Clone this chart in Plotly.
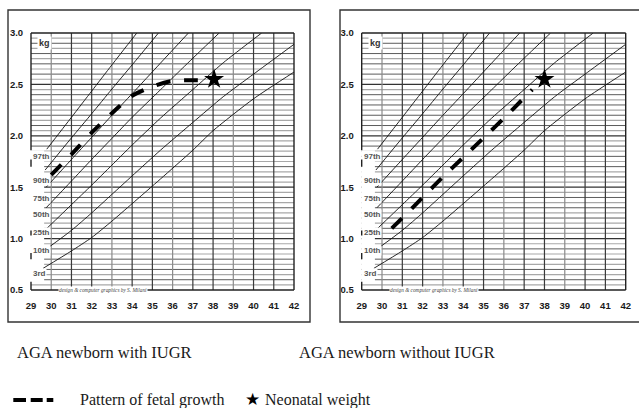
import plotly.graph_objects as go

W, H = 639, 408

# ---------------- data ----------------
week_ticks = list(range(29, 43))
kg_ticks = [0.5, 1.0, 1.5, 2.0, 2.5, 3.0]
kg_tick_text = ["0.5", "1.0", "1.5", "2.0", "2.5", "3.0"]

pct_names = ["97th", "90th", "75th", "50th", "25th", "10th", "3rd"]
pct_label_kg = [1.797, 1.570, 1.392, 1.230, 1.061, 0.889, 0.662]

p97_wk = [29.78, 31, 32, 33, 34.23]
p97_kg = [1.87, 2.18, 2.435, 2.69, 3.0]
p90_wk = [29.7, 31, 32, 33, 34, 35.3]
p90_kg = [1.667, 1.98, 2.215, 2.455, 2.69, 3.0]
p75_wk = [29.75, 31, 32, 33, 34, 35.39, 36.78]
p75_kg = [1.50, 1.77, 1.985, 2.20, 2.41, 2.705, 3.0]
p50_wk = [29.75, 31, 32, 33, 34, 35.39, 36.5, 38.3]
p50_kg = [1.30, 1.56, 1.77, 1.975, 2.18, 2.446, 2.66, 3.0]
p25_wk = [29.75, 31, 32, 33, 34, 35.39, 37, 38.5, 40.4]
p25_kg = [1.093, 1.33, 1.52, 1.715, 1.91, 2.17, 2.45, 2.71, 3.0]
p10_wk = [29.8, 31, 32, 33, 34, 35.4, 37, 38.5, 40, 42]
p10_kg = [0.904, 1.08, 1.25, 1.43, 1.61, 1.86, 2.13, 2.38, 2.60, 2.89]
p3_wk = [29.6, 31, 32, 33, 34, 35.4, 37, 38, 40, 42]
p3_kg = [0.711, 0.88, 1.01, 1.17, 1.34, 1.58, 1.86, 2.05, 2.36, 2.62]

# fetal growth pattern (left: with IUGR, right: without IUGR)
iugr_wk = [30, 31, 32, 33, 34, 35, 36, 37, 37.33]
iugr_kg = [1.62, 1.82, 2.03, 2.22, 2.39, 2.48, 2.535, 2.54, 2.54]
noiugr_wk = [30.48, 31, 32, 33, 34, 35, 36, 37, 37.4]
noiugr_kg = [1.10, 1.20, 1.40, 1.60, 1.79, 1.98, 2.17, 2.37, 2.45]

# neonatal weight (left panel, right panel)
neo_wk = [38.05, 38.0]
neo_kg = [2.55, 2.55]

captions = ["AGA newborn with IUGR", "AGA newborn without IUGR"]
credit = "design & computer graphics by S. Milani"

# ---------------- figure ----------------
fig = go.Figure()

curves = [(p97_wk, p97_kg), (p90_wk, p90_kg), (p75_wk, p75_kg), (p50_wk, p50_kg),
          (p25_wk, p25_kg), (p10_wk, p10_kg), (p3_wk, p3_kg)]

panels = [("x", "y", iugr_wk, iugr_kg, 0), ("x2", "y2", noiugr_wk, noiugr_kg, 1)]

narrow = "Liberation Sans Narrow, Arial Narrow, Liberation Sans, Arial"
tickfont = dict(family=narrow, size=9.5, color="#1a1a1a")

shapes = []
annotations = []

for xr, yr, gw, gk, i in panels:
    for (cw, ck) in curves:
        fig.add_trace(go.Scatter(x=cw, y=ck, xaxis=xr, yaxis=yr, mode="lines",
                                 line=dict(color="#111", width=0.9, shape="spline", smoothing=0.6),
                                 showlegend=False, hoverinfo="skip"))
    fig.add_trace(go.Scatter(x=gw, y=gk, xaxis=xr, yaxis=yr, mode="lines",
                             line=dict(color="black", width=4, dash="14px,14px", shape="spline", smoothing=0.6),
                             showlegend=False, hoverinfo="skip"))
    fig.add_trace(go.Scatter(x=[neo_wk[i]], y=[neo_kg[i]], xaxis=xr, yaxis=yr, mode="markers",
                             marker=dict(symbol="star", size=15, color="black"),
                             showlegend=False, hoverinfo="skip"))

    xd = xr + " domain"
    yd = yr + " domain"
    # horizontal grid (every 0.05 kg)
    for k in range(11, 60):
        v = k * 0.05
        if k % 10 == 0:
            col, w = "#333", 1.2
        elif k % 2 == 0:
            col, w = "#4a4a4a", 0.9
        else:
            col, w = "#a8a8a8", 1.2
        shapes.append(dict(type="line", xref=xd, yref=yr, x0=0, x1=1, y0=v, y1=v,
                           line=dict(color=col, width=w), layer="below"))
    # vertical grid (every week)
    for wk in range(30, 42):
        col = "#8a8a8a" if wk in (30, 33, 36, 39) else "#3a3a3a"
        shapes.append(dict(type="line", xref=xr, yref=yd, x0=wk, x1=wk, y0=0, y1=1,
                           line=dict(color=col, width=1.2), layer="below"))
    # plot border
    bl = dict(color="#222", width=1.4)
    shapes.append(dict(type="line", xref=xd, yref=yd, x0=0, x1=1, y0=1, y1=1, line=bl))
    shapes.append(dict(type="line", xref=xd, yref=yd, x0=1, x1=1, y0=0, y1=1, line=bl))
    shapes.append(dict(type="line", xref=xd, yref=yd, x0=0, x1=1, y0=0, y1=0, line=bl))
    shapes.append(dict(type="line", xref=xd, yref=yr, x0=0, x1=0, y0=3.0, y1=1.86, line=bl))
    shapes.append(dict(type="line", xref=xd, yref=yr, x0=0, x1=0, y0=0.58, y1=0.5, line=bl))
    # white column behind percentile labels
    shapes.append(dict(type="rect", xref=xr, yref=yr, x0=28.98, x1=29.65, y0=0.58, y1=1.86,
                       fillcolor="white", line=dict(width=0), layer="below"))
    # small remnants of the left border
    for (a, b) in [(1.70, 1.77), (1.03, 1.08), (0.80, 0.86)]:
        shapes.append(dict(type="line", xref=xd, yref=yr, x0=0, x1=0, y0=a, y1=b, line=bl))

    # percentile labels
    for name, yk in zip(pct_names, pct_label_kg):
        annotations.append(dict(xref=xr, yref=yr, x=29, y=yk, text="<b>" + name + "</b>", showarrow=False,
                                xanchor="left", yanchor="middle", xshift=1,
                                font=dict(family=narrow, size=8, color="#555"),
                                bgcolor="white", borderpad=0))
    annotations.append(dict(xref=xr, yref=yr, x=29.69, y=2.9, text="<b>kg</b>", showarrow=False,
                            xanchor="center", yanchor="middle",
                            font=dict(family=narrow, size=9, color="#333"),
                            bgcolor="white", borderpad=1))
    annotations.append(dict(xref=xr, yref=yr, x=32.58, y=0.5, text="<i>" + credit + "</i>", showarrow=False,
                            xanchor="center", yanchor="middle",
                            font=dict(family="Liberation Serif", size=5.3, color="#444"),
                            bgcolor="white", borderpad=0))

# outer frames
fl = dict(color="#333", width=1.4)
shapes.append(dict(type="rect", xref="paper", yref="paper", x0=8 / W, x1=310 / W,
                   y0=1 - 322 / H, y1=1 - 10 / H, line=fl))
shapes.append(dict(type="rect", xref="paper", yref="paper", x0=340 / W, x1=660 / W,
                   y0=1 - 322 / H, y1=1 - 10 / H, line=fl))

# captions
serif = dict(family="Liberation Serif, Times New Roman, serif", size=16.5, color="#1a1a1a")
annotations.append(dict(xref="paper", yref="paper", x=104.8 / W, y=1 - 352 / H, text=captions[0],
                        showarrow=False, xanchor="center", yanchor="middle", font=serif))
annotations.append(dict(xref="paper", yref="paper", x=396.7 / W, y=1 - 352 / H, text=captions[1],
                        showarrow=False, xanchor="center", yanchor="middle", font=serif))

# legend row
for (a, b) in [(13.3, 26), (30.7, 42.7), (46.7, 53.3)]:
    shapes.append(dict(type="line", xref="paper", yref="paper", x0=a / W, x1=b / W,
                       y0=1 - 400 / H, y1=1 - 400 / H, line=dict(color="black", width=4)))
annotations.append(dict(xref="paper", yref="paper", x=78 / W, y=1 - 400 / H, text="Pattern of fetal growth",
                        showarrow=False, xanchor="left", yanchor="middle", font=dict(serif, size=16)))
annotations.append(dict(xref="paper", yref="paper", x=252.5 / W, y=1 - 399 / H, text="★",
                        showarrow=False, xanchor="center", yanchor="middle",
                        font=dict(family="DejaVu Sans", size=17, color="black")))
annotations.append(dict(xref="paper", yref="paper", x=263 / W, y=1 - 400 / H, text="Neonatal weight",
                        showarrow=False, xanchor="left", yanchor="middle", font=dict(serif, size=16)))

def xax(dom, anchor):
    return dict(domain=dom, range=[29, 42], tickvals=week_ticks,
                ticktext=["<b>%d</b>" % v for v in week_ticks],
                showgrid=False, zeroline=False,
                showline=False, ticks="outside", ticklen=7, tickcolor="rgba(0,0,0,0)",
                tickfont=tickfont, anchor=anchor, fixedrange=True, automargin=False)

def yax(anchor):
    return dict(domain=[1 - 290 / H, 1 - 33 / H], range=[0.5, 3.0], tickvals=kg_ticks,
                ticktext=["<b>%s</b>" % t for t in kg_tick_text], showgrid=False, zeroline=False, showline=False,
                ticks="outside", ticklen=5, tickcolor="rgba(0,0,0,0)", tickfont=tickfont,
                anchor=anchor, fixedrange=True, automargin=False)

fig.update_layout(
    width=W, height=H, margin=dict(l=0, r=0, t=0, b=0),
    paper_bgcolor="white", plot_bgcolor="white",
    xaxis=xax([31 / W, 294 / W], "y"), yaxis=yax("x"),
    xaxis2=xax([361.7 / W, 625.7 / W], "y2"), yaxis2=yax("x2"),
    shapes=shapes, annotations=annotations, showlegend=False,
)

fig.write_html("out.html", config={"displayModeBar": False},
               post_script="document.body.style.margin='0';")
